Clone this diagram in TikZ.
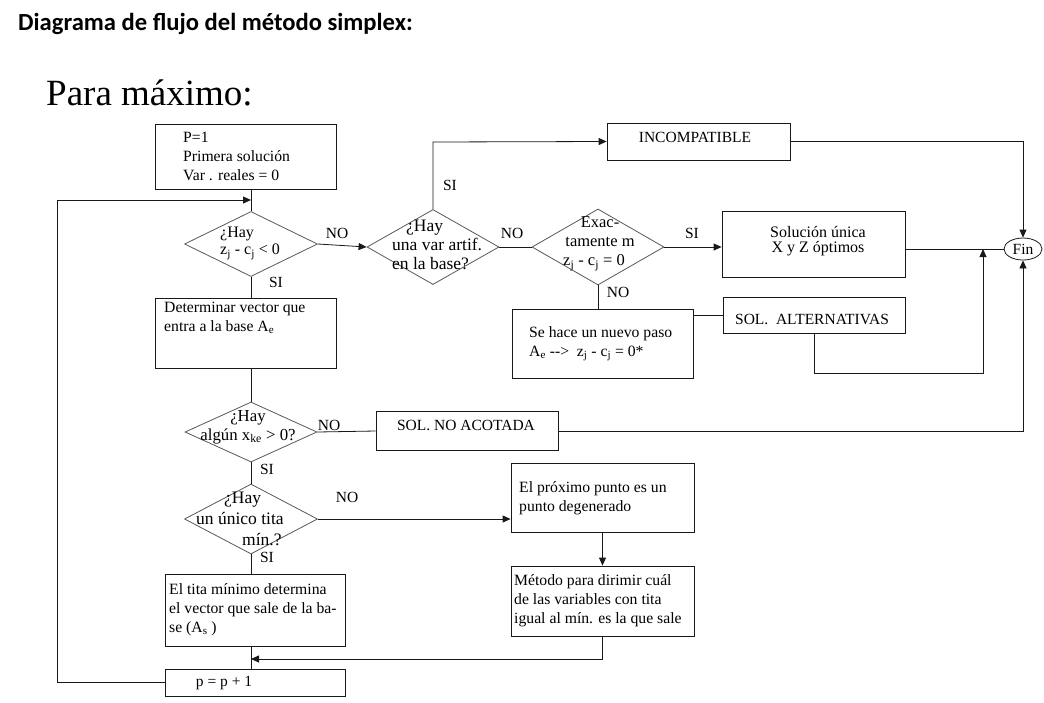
\documentclass[tikz,border=0pt]{standalone}
\usepackage{fontspec}
\setmainfont{Liberation Serif}
\newfontfamily\headfont{Carlito}
\usetikzlibrary{shapes.geometric,arrows.meta}
\newcommand{\sbs}[1]{\textsubscript{#1}}
\tikzset{
  box/.style={draw=black!90, line width=0.8pt, inner sep=0pt, rectangle},
  dia/.style={draw=black!65, line width=0.8pt, inner sep=0pt, shape=diamond},
  txt/.style={font=\fontsize{15.7}{19}\selectfont, inner sep=0pt, align=left, text=black},
  dtxt/.style={font=\fontsize{16.5}{19}\selectfont, inner sep=0pt, align=left, text=black},
  lbl/.style={font=\fontsize{15.5}{19}\selectfont, inner sep=0pt, text=black},
  ln/.style={draw=black!90, line width=0.8pt},
  arr/.style={ln, -{Triangle[length=8pt,width=7pt]}},
  ell/.style={draw=black!90, line width=0.8pt, ellipse, inner sep=0pt}
}
\begin{document}
\begin{tikzpicture}[x=1pt,y=-1pt]
\useasboundingbox (0,0) rectangle (1044,702);
\fill[white] (0,0) rectangle (1044,702);

% titles
\node[anchor=base west, inner sep=0pt, font=\headfont\bfseries\fontsize{24.6}{28}\selectfont] (title) at (18,30) {Diagrama de flujo del método simplex:};
\node[anchor=base west, inner sep=0pt, font=\fontsize{37}{40}\selectfont] (para) at (46,105) {Para máximo:};

% boxes
\node[box, minimum width=181pt, minimum height=65pt] (s1) at (245.5,156.5) {};
\node[txt, anchor=west] (s1t) at (183,156) {P=1\\Primera solución\\Var . reales = 0};

\node[box, minimum width=183pt, minimum height=37pt] (inc) at (698.5,141.5) {};
\node[lbl] (inct) at (695,137) {INCOMPATIBLE};

\node[box, minimum width=183pt, minimum height=66pt] (sol) at (813.5,244) {};
\node[txt, align=center, font=\fontsize{16}{15.5}\selectfont] (solt) at (818,241) {Solución única\\X y Z óptimos};

\node[ell, minimum width=38pt, minimum height=22pt] (fin) at (1023,249) {};
\node[lbl] (fint) at (1023,249) {Fin};

\node[box, minimum width=182pt, minimum height=36pt] (alt) at (814,315) {};
\node[lbl] (altt) at (812,319) {SOL.\ \ ALTERNATIVAS};

\node[box, minimum width=181pt, minimum height=69pt] (nuevo) at (602.5,343.5) {};
\node[txt, anchor=west] (nuevot) at (529,344) {Se hace un nuevo paso\\A\sbs{e} -{}->\ \ z\sbs{j} - c\sbs{j} = 0*};

\node[box, minimum width=181pt, minimum height=70pt] (det) at (245.5,333) {};
\node[txt, anchor=north west] (dett) at (164,302) {Determinar vector que\\entra a la base A\sbs{e}};

\node[box, minimum width=182pt, minimum height=39pt] (noac) at (467,431) {};
\node[lbl] (noact) at (466,425) {SOL. NO ACOTADA};

\node[box, minimum width=183pt, minimum height=69pt] (prox) at (602.5,497.5) {};
\node[txt, anchor=west] (proxt) at (519,498) {El próximo punto es un\\punto degenerado};

\node[box, minimum width=183pt, minimum height=70pt] (met) at (602.5,601) {};
\node[txt, anchor=west] (mett) at (514,601) {Método para dirimir cuál\\de las variables con tita\\igual al mín. es la que sale};

\node[box, minimum width=180pt, minimum height=72pt] (tita) at (255,610) {};
\node[txt, anchor=west] (titat) at (169,610) {El tita mínimo determina\\el vector que sale de la ba-\\se (A\sbs{s} )};

\node[box, minimum width=180pt, minimum height=27pt] (pp) at (255,682.5) {};
\node[lbl] (ppt) at (224,683) {p = p + 1};

% diamonds
\node[dia, minimum width=133pt, minimum height=65pt] (d1) at (251,244) {};
\node[dtxt, font=\fontsize{16}{17}\selectfont, anchor=west] (d1t) at (220,243.5) {¿Hay\\z\sbs{j} - c\sbs{j} < 0};

\node[dia, minimum width=132pt, minimum height=75pt] (d2) at (433,247) {};
\node[dtxt, font=\fontsize{17.5}{19}\selectfont, anchor=west] (d2t) at (392,244.5) {\hspace*{14pt}¿Hay\\una var\ artif.\\en la base?};

\node[dia, minimum width=132pt, minimum height=76pt] (d3) at (598,247) {};
\node[dtxt, align=center] (d3t) at (600,244) {Exac-\\tamente m\\\hspace*{-12pt}z\sbs{j} - c\sbs{j} = 0};

\node[dia, minimum width=132pt, minimum height=60pt] (d4) at (251,432) {};
\node[dtxt, align=center, font=\fontsize{16.8}{19}\selectfont] (d4t) at (248,427) {¿Hay\\algún x\sbs{ke} > 0?};

\node[dia, minimum width=133pt, minimum height=70pt] (d5) at (251,519) {};
\node[dtxt, align=left, font=\fontsize{17.5}{21}\selectfont, anchor=west] (d5t) at (196,519) {\hspace*{28pt}¿Hay\\un único tita\\\hspace*{46pt}mín.?};

% coordinates
\coordinate (loopin) at (251,200);
\coordinate (lc) at (57,200);
\coordinate (j1) at (983,249);
\coordinate (j1b) at (983,373);
\coordinate (j2) at (251,659);
\coordinate (incup) at (433,142);

% connectors
\draw[ln] (s1.south -| d1.north) -- (d1.north);
\draw[arr] (pp.west) -| (lc) -- (loopin);
\draw[arr] (d1.east) -- (d2.west);
\draw[arr] (d2.north) -- (incup) -- (inc.west);
\draw[ln] (d2.east) -- (d3.west);
\draw[arr] (d3.east) -- (d3.east -| sol.west);
\draw[ln] (d3.south) -- (d3.south |- nuevo.north);
\draw[ln] (nuevo.east |- alt.west) -- (alt.west);
\draw[arr] (alt.south) |- (j1b) -- (j1);
\draw[ln] (sol.east |- fin.west) -- (fin.west);
\draw[arr] (inc.east) -| (fin.north);
\draw[arr] (noac.east) -| (fin.south);
\draw[ln] (d1.south) -- (d1.south |- det.north);
\draw[ln] (det.south -| d4.north) -- (d4.north);
\draw[ln] (d4.east) -- (noac.west);
\draw[ln] (d4.south) -- (d5.north);
\draw[arr] (d5.east) -- (d5.east -| prox.west);
\draw[arr] (prox.south) -- (met.north);
\draw[arr] (met.south) |- (j2);
\draw[ln] (d5.south) -- (d5.south |- tita.north);
\draw[ln] (tita.south -| d5.south) -- (pp.north -| d5.south);

% connector labels
\node[lbl] (l1) at (337,233) {NO};
\node[lbl] (l2) at (450,185) {SI};
\node[lbl] (l3) at (512,233) {NO};
\node[lbl] (l4) at (692,233) {SI};
\node[lbl] (l5) at (618,292) {NO};
\node[lbl] (l6) at (276,282) {SI};
\node[lbl] (l7) at (329,425) {NO};
\node[lbl] (l8) at (267,469) {SI};
\node[lbl] (l9) at (347,497) {NO};
\node[lbl] (l10) at (267,557) {SI};
\end{tikzpicture}
\end{document}
